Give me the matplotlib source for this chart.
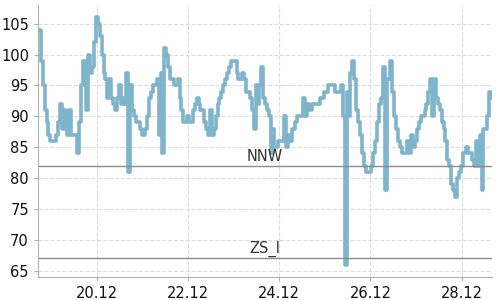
import matplotlib
matplotlib.use("Agg")
import matplotlib.pyplot as plt
import matplotlib.dates as mdates
import pandas as pd

# hourly readings, starting 18.12 17:00
start = "2023-12-18 17:00"
values = [
    104, 104, 99, 95, 91, 89, 87, 86, 86, 86, 87, 89, 92, 88, 91, 88, 87, 91, 87, 87, 87, 84, 89, 95,
    99, 95, 91, 100, 97, 98, 102, 106, 105, 103, 100, 97, 96, 93, 96, 93, 92, 91, 93, 95, 92, 93, 92, 97,
    81, 95, 91, 90, 89, 89, 88, 87, 87, 88, 90, 93, 94, 95, 95, 96, 87, 97, 84, 101, 100, 98, 96, 96,
    95, 95, 96, 93, 91, 89, 89, 90, 89, 89, 91, 92, 93, 92, 91, 91, 89, 88, 87, 91, 87, 88, 90, 92,
    93, 94, 95, 96, 97, 98, 99, 99, 99, 97, 96, 96, 97, 96, 94, 94, 93, 91, 88, 95, 92, 95, 98, 93,
    92, 91, 90, 84, 88, 85, 85, 86, 86, 86, 90, 85, 87, 86, 88, 88, 89, 90, 90, 90, 93, 90, 92, 91,
    91, 92, 92, 92, 92, 93, 93, 94, 94, 95, 95, 95, 95, 94, 94, 94, 95, 90, 66, 94, 90, 97, 99, 96,
    91, 89, 87, 84, 82, 81, 81, 81, 82, 84, 86, 89, 92, 93, 98, 78, 96, 96, 99, 94, 90, 88, 86, 85,
    84, 84, 84, 86, 84, 87, 85, 86, 88, 89, 90, 90, 91, 92, 94, 96, 90, 96, 93, 92, 91, 89, 88, 86,
    83, 82, 79, 78, 77, 80, 81, 82, 84, 84, 85, 84, 84, 83, 82, 86, 82, 87, 78, 88, 88, 90, 94, 93,
]
limit_names = ["NNW", "ZS_I"]
limit_values = [82, 67]

times = pd.date_range(start, periods=len(values), freq="h")

fig = plt.figure(figsize=(5, 3), dpi=100)
ax = fig.add_axes([0.076, 0.077, 0.908, 0.906])

ax.plot(times, values, color="#7eb4cc", linewidth=2.6, drawstyle="steps-mid")

for name, val in zip(limit_names, limit_values):
    ax.axhline(val, color="#8c8c8c", linewidth=1)
    ax.text(0.5, val + 0.3, name, transform=ax.get_yaxis_transform(),
            ha="center", va="bottom", fontsize=10.5, color="#333333")

ax.set_xlim(times[0], times[-1])
ax.set_ylim(64, 108)
ax.set_yticks(range(65, 106, 5))
ax.xaxis.set_major_locator(mdates.DayLocator(bymonthday=[20, 22, 24, 26, 28]))
ax.xaxis.set_major_formatter(mdates.DateFormatter("%d.%m"))

ax.grid(True, color="#dddddd", linestyle="--", linewidth=0.8)
ax.set_axisbelow(True)
for side in ["top", "right"]:
    ax.spines[side].set_visible(False)
for side in ["left", "bottom"]:
    ax.spines[side].set_color("#b0b0b0")
ax.tick_params(colors="#b0b0b0", length=3, labelcolor="#111111", labelsize=10.5)

fig.savefig("out.png", dpi=100)
